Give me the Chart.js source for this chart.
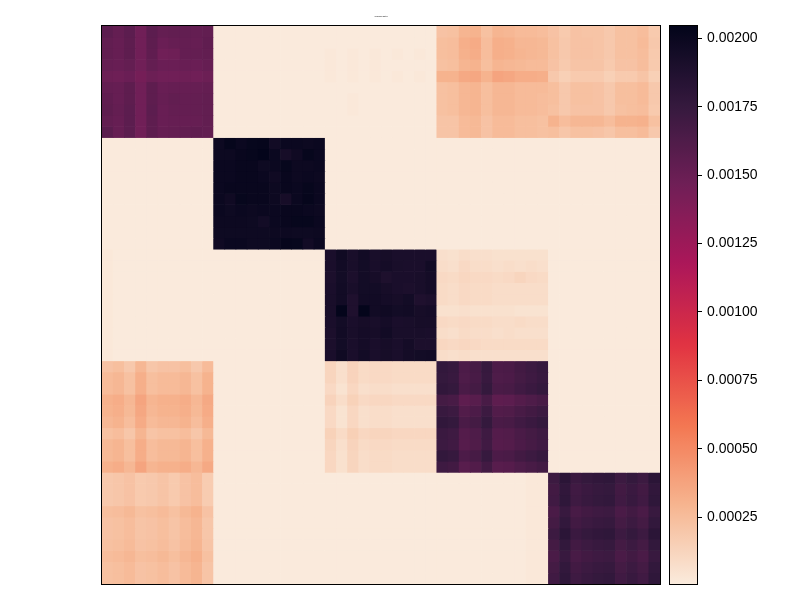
<!DOCTYPE html>
<html>
<head>
<meta charset="utf-8">
<style>
html,body{margin:0;padding:0;background:#fff;}
#wrap{position:relative;width:800px;height:600px;}
canvas{position:absolute;top:0;}
</style>
<script src="https://cdn.jsdelivr.net/npm/chart.js@4.4.1/dist/chart.umd.min.js"></script>
</head>
<body>
<div id="wrap">
<canvas id="heat" width="800" height="600" style="left:0"></canvas>
<canvas id="cbar" width="140" height="600" style="left:660px"></canvas>
</div>
<script>
// ---------- data ----------
const chartTitle = 'Covariance Matrix';
const columnLabels = ['0','1','2','3','4','5','6','7','8','9','10','11','12','13','14','15','16','17','18','19','20','21','22','23','24','25','26','27','28','29','30','31','32','33','34','35','36','37','38','39','40','41','42','43','44','45','46','47','48','49'];
const rowLabels = columnLabels.slice();
const valueUnit = 1e-5;           // cell values below are in units of 1e-5
const colorMin = 0.000005;
const colorMax = 0.002046;
const colorbarTicks = [0.00025, 0.0005, 0.00075, 0.001, 0.00125, 0.0015, 0.00175, 0.002];

const cellValues = [
[156,152,156,146,156,152,153,153,152,153, 1,1,1,1,1,1,1,1,1,1, 1,1,1,1,1,1,1,1,1,1, 22,23,29,30,23,29,28,26,26,25, 22,18,22,21,21,19,23,23,25,18],
[153,151,155,146,155,149,151,152,151,154, 1,1,1,1,1,1,1,1,1,1, 1,1,1,1,1,1,1,1,1,1, 24,25,32,34,25,32,31,28,28,27, 23,19,22,22,21,19,23,23,26,19],
[153,151,155,146,154,146,147,152,152,153, 1,1,1,1,1,1,1,1,1,1, 2,1,2,1,2,1,2,1,2,1, 24,25,31,33,25,32,31,29,28,27, 23,19,22,22,21,19,23,23,25,18],
[151,150,152,146,152,149,149,150,149,151, 1,1,1,1,1,1,1,1,1,1, 2,1,2,1,2,1,1,1,1,1, 23,24,29,30,24,29,28,27,26,26, 22,18,21,21,21,18,22,22,25,18],
[148,147,149,144,148,146,146,147,146,148, 1,1,1,1,1,1,1,1,1,1, 2,1,2,1,2,1,2,1,2,1, 30,30,35,36,30,37,36,33,33,32, 19,15,18,18,18,15,18,18,21,15],
[152,151,155,146,155,150,151,151,151,152, 1,1,1,1,1,1,1,1,1,1, 1,1,1,1,1,1,1,1,1,1, 23,24,28,29,24,28,28,26,26,26, 24,19,23,23,22,19,24,24,26,19],
[154,151,155,146,155,151,153,152,152,153, 1,1,1,1,1,1,1,1,1,1, 1,1,2,1,1,1,1,1,1,1, 23,24,28,29,24,28,28,26,26,25, 24,19,23,23,22,19,24,24,26,19],
[155,152,156,146,156,150,152,152,152,153, 1,1,1,1,1,1,1,1,1,1, 1,1,2,1,1,1,1,1,1,1, 23,24,28,29,24,28,28,26,26,25, 23,19,22,22,22,19,23,24,25,18],
[153,151,156,146,155,150,151,151,151,153, 1,1,1,1,1,1,1,1,1,1, 1,1,1,1,1,1,1,1,1,1, 21,21,26,27,22,26,26,24,24,23, 30,25,28,28,28,25,30,30,31,23],
[157,151,156,146,155,151,152,153,154,153, 1,1,1,1,1,1,1,1,1,1, 1,1,1,1,1,1,1,1,1,1, 21,21,26,27,22,26,26,24,24,23, 24,20,23,23,22,20,24,24,26,19],
[1,1,1,1,1,1,1,1,1,1, 199,203,200,202,203,196,200,200,199,200, 1,1,1,1,1,1,1,1,1,1, 1,1,1,1,1,1,1,1,1,1, 1,1,1,1,1,1,1,1,1,1],
[1,1,1,1,1,1,1,1,1,1, 199,199,201,202,204,200,193,197,202,200, 1,1,1,1,1,1,1,1,1,1, 1,1,1,1,1,1,1,1,1,1, 1,1,1,1,1,1,1,1,1,1],
[1,1,1,1,1,1,1,1,1,1, 200,200,201,201,198,200,202,199,199,200, 1,1,1,1,1,1,1,1,1,1, 1,1,1,1,1,1,1,1,1,1, 1,1,1,1,1,1,1,1,1,1],
[1,1,1,1,1,1,1,1,1,1, 200,200,201,201,200,197,201,199,200,199, 1,1,1,1,1,1,1,1,1,1, 1,1,1,1,1,1,1,1,1,1, 1,1,1,1,1,1,1,1,1,1],
[1,1,1,1,1,1,1,1,1,1, 200,201,201,201,201,199,201,200,202,200, 1,1,1,1,1,1,1,1,1,1, 1,1,1,1,1,1,1,1,1,1, 1,1,1,1,1,1,1,1,1,1],
[1,1,1,1,1,1,1,1,1,1, 200,197,202,201,201,199,193,200,203,200, 1,1,1,1,1,1,1,1,1,1, 1,1,1,1,1,1,1,1,1,1, 1,1,1,1,1,1,1,1,1,1],
[1,1,1,1,1,1,1,1,1,1, 200,198,200,199,200,200,201,201,200,199, 1,1,1,1,1,1,1,1,1,1, 1,1,1,1,1,1,1,1,1,1, 1,1,1,1,1,1,1,1,1,1],
[1,1,1,1,1,1,1,1,1,1, 199,199,199,198,195,200,201,202,202,200, 1,1,1,1,1,1,1,1,1,1, 1,1,1,1,1,1,1,1,1,1, 1,1,1,1,1,1,1,1,1,1],
[1,1,1,1,1,1,1,1,1,1, 198,198,198,198,198,199,199,198,198,199, 1,1,1,1,1,1,1,1,1,1, 1,1,1,1,1,1,1,1,1,1, 1,1,1,1,1,1,1,1,1,1],
[1,1,1,1,1,1,1,1,1,1, 197,200,200,198,198,200,203,202,196,200, 1,1,1,1,1,1,1,1,1,1, 1,1,1,1,1,1,1,1,1,1, 1,1,1,1,1,1,1,1,1,1],
[2,1,1,1,1,1,1,1,1,1, 1,1,1,1,1,1,1,1,1,1, 191,197,192,196,192,193,191,191,191,191, 7,6,8,7,7,6,6,6,6,6, 1,1,1,1,1,1,1,1,1,1],
[2,1,1,1,1,1,1,1,1,1, 1,1,1,1,1,1,1,1,1,1, 191,196,192,195,192,194,192,191,191,196, 8,7,10,8,8,7,8,7,8,7, 1,1,1,1,1,1,1,1,1,1],
[2,1,1,1,1,1,1,1,1,1, 1,1,1,1,1,1,1,1,1,1, 190,195,190,195,193,189,191,191,192,194, 10,9,11,10,10,9,10,12,10,9, 1,1,1,1,1,1,1,1,1,1],
[2,1,1,1,1,1,1,1,1,1, 1,1,1,1,1,1,1,1,1,1, 191,196,192,195,195,193,191,190,192,194, 9,8,10,9,9,8,8,8,8,8, 1,1,1,1,1,1,1,1,1,1],
[2,1,1,1,1,1,1,1,1,1, 1,1,1,1,1,1,1,1,1,1, 192,196,188,196,196,194,193,195,188,190, 9,8,10,9,9,8,8,8,8,8, 1,1,1,1,1,1,1,1,1,1],
[2,1,1,1,1,1,1,1,1,1, 1,1,1,1,1,1,1,1,1,1, 192,204,188,204,196,197,195,196,193,194, 6,6,7,6,6,6,6,5,5,5, 1,1,1,1,1,1,1,1,1,1],
[2,1,1,1,1,1,1,1,1,1, 1,1,1,1,1,1,1,1,1,1, 191,195,191,193,192,194,191,192,193,193, 10,9,10,9,9,8,8,9,8,8, 1,1,1,1,1,1,1,1,1,1],
[2,1,1,1,1,1,1,1,1,1, 1,1,1,1,1,1,1,1,1,1, 190,196,192,194,193,196,192,192,192,191, 8,7,9,8,8,7,8,7,7,7, 1,1,1,1,1,1,1,1,1,1],
[2,1,1,1,1,1,1,1,1,1, 1,1,1,1,1,1,1,1,1,1, 190,195,191,194,191,193,191,194,190,190, 11,10,11,10,9,9,9,9,9,9, 1,1,1,1,1,1,1,1,1,1],
[2,1,1,1,1,1,1,1,1,1, 1,1,1,1,1,1,1,1,1,1, 191,197,191,195,191,193,191,194,195,196, 8,7,8,7,7,7,7,7,7,7, 1,1,1,1,1,1,1,1,1,1],
[22,24,19,28,20,22,22,24,19,26, 1,1,1,1,1,1,1,1,1,1, 12,7,13,9,10,10,9,9,9,9, 177,175,164,167,175,164,165,169,172,175, 1,1,1,1,1,1,1,1,1,1],
[26,28,23,32,24,26,26,28,23,30, 1,1,1,1,1,1,1,1,1,1, 12,7,13,9,10,10,9,9,9,9, 176,174,163,166,174,163,164,168,171,174, 1,1,1,1,1,1,1,1,1,1],
[26,28,23,32,24,26,26,28,23,30, 1,1,1,1,1,1,1,1,1,1, 10,5,11,7,8,8,7,7,7,7, 178,176,165,168,176,165,166,170,173,176, 1,1,1,1,1,1,1,1,1,1],
[31,33,28,37,29,31,31,33,28,35, 1,1,1,1,1,1,1,1,1,1, 13,8,14,10,11,11,10,10,10,10, 168,166,155,158,166,155,156,160,163,166, 1,1,1,1,1,1,1,1,1,1],
[30,32,27,36,28,30,30,32,27,34, 1,1,1,1,1,1,1,1,1,1, 10,5,11,7,8,8,7,7,7,7, 174,172,161,164,172,161,162,166,169,172, 1,1,1,1,1,1,1,1,1,1],
[28,30,25,34,26,28,28,30,25,32, 1,1,1,1,1,1,1,1,1,1, 10,5,11,7,8,8,7,7,7,7, 178,176,165,168,176,165,166,170,173,176, 1,1,1,1,1,1,1,1,1,1],
[23,25,20,29,21,23,23,25,20,27, 1,1,1,1,1,1,1,1,1,1, 14,9,15,11,12,12,11,11,11,11, 173,171,160,163,171,160,161,165,168,171, 1,1,1,1,1,1,1,1,1,1],
[27,29,24,33,25,27,27,29,24,31, 1,1,1,1,1,1,1,1,1,1, 12,7,13,9,10,10,9,9,9,9, 172,170,159,162,170,159,160,164,167,170, 1,1,1,1,1,1,1,1,1,1],
[27,29,24,33,25,27,27,29,24,31, 1,1,1,1,1,1,1,1,1,1, 11,6,12,8,9,9,8,8,8,8, 177,175,164,167,175,164,165,169,172,175, 1,1,1,1,1,1,1,1,1,1],
[31,33,28,37,29,31,31,33,28,35, 1,1,1,1,1,1,1,1,1,1, 11,6,12,8,9,9,8,8,8,8, 171,169,158,161,169,158,159,163,166,169, 1,1,1,1,1,1,1,1,1,1],
[19,20,22,18,19,21,18,22,25,17, 1,1,1,1,1,1,1,1,1,1, 1,1,1,1,1,1,1,1,1,1, 1,1,1,1,1,1,1,1,2,2, 172,181,173,176,178,179,172,176,172,181],
[19,20,22,18,19,21,18,22,25,17, 1,1,1,1,1,1,1,1,1,1, 1,1,1,1,1,1,1,1,1,1, 1,1,1,1,1,1,1,1,2,2, 169,178,170,173,175,176,169,173,169,178],
[19,20,22,18,19,21,18,22,25,17, 1,1,1,1,1,1,1,1,1,1, 1,1,1,1,1,1,1,1,1,1, 1,1,1,1,1,1,1,1,2,2, 170,179,171,174,176,177,170,174,170,179],
[24,25,27,23,24,26,23,27,30,22, 1,1,1,1,1,1,1,1,1,1, 1,1,1,1,1,1,1,1,1,1, 1,1,1,1,1,1,1,1,2,2, 165,174,166,169,171,172,165,169,165,174],
[22,23,25,21,22,24,21,25,28,20, 1,1,1,1,1,1,1,1,1,1, 1,1,1,1,1,1,1,1,1,1, 1,1,1,1,1,1,1,1,2,2, 168,177,169,172,174,175,168,172,168,177],
[22,23,25,21,22,24,21,25,28,20, 1,1,1,1,1,1,1,1,1,1, 1,1,1,1,1,1,1,1,1,1, 1,1,1,1,1,1,1,1,2,2, 172,181,173,176,178,179,172,176,172,181],
[23,24,26,22,23,25,22,26,29,21, 1,1,1,1,1,1,1,1,1,1, 1,1,1,1,1,1,1,1,1,1, 1,1,1,1,1,1,1,1,2,2, 168,177,169,172,174,175,168,172,168,177],
[25,26,28,24,25,27,24,28,31,23, 1,1,1,1,1,1,1,1,1,1, 1,1,1,1,1,1,1,1,1,1, 1,1,1,1,1,1,1,1,2,2, 165,174,166,169,171,172,165,169,165,174],
[23,24,26,22,23,25,22,26,29,21, 1,1,1,1,1,1,1,1,1,1, 1,1,1,1,1,1,1,1,1,1, 1,1,1,1,1,1,1,1,2,2, 168,177,169,172,174,175,168,172,168,177],
[23,24,26,22,23,25,22,26,29,21, 1,1,1,1,1,1,1,1,1,1, 1,1,1,1,1,1,1,1,1,1, 1,1,1,1,1,1,1,1,2,2, 170,179,171,174,176,177,170,174,170,179]
];

// ---------- colormap (seaborn "rocket", used reversed) ----------
const rocketStops = [
  [0.000, [3,5,26]],
  [0.143, [53,25,62]],
  [0.286, [112,31,87]],
  [0.429, [173,23,89]],
  [0.571, [225,51,66]],
  [0.714, [243,118,81]],
  [0.857, [246,180,143]],
  [1.000, [250,235,221]]
];
function rocket(p){
  p = Math.max(0, Math.min(1, p));
  for (let i = 1; i < rocketStops.length; i++){
    const [p1, c1] = rocketStops[i];
    if (p <= p1){
      const [p0, c0] = rocketStops[i-1];
      const f = (p - p0) / (p1 - p0);
      const c = c0.map((v, k) => Math.round(v + (c1[k] - v) * f));
      return 'rgb(' + c.join(',') + ')';
    }
  }
  return 'rgb(250,235,221)';
}
function colorFor(v){
  const t = (v - colorMin) / (colorMax - colorMin);
  return rocket(1 - t);
}

const framePlugin = {
  id: 'frame',
  afterDatasetsDraw(chart){
    const a = chart.chartArea, c = chart.ctx;
    c.save();
    c.strokeStyle = '#000';
    c.lineWidth = 1;
    c.strokeRect(Math.round(a.left) - 0.5, Math.round(a.top) - 0.5, Math.round(a.right - a.left) + 1, Math.round(a.bottom - a.top) + 1);
    c.restore();
  }
};

// ---------- heatmap ----------
const heatDatasets = cellValues.map((row, r) => ({
  label: rowLabels[r],
  data: row.map(() => 1),
  backgroundColor: row.map(v => colorFor(v * valueUnit)),
  borderWidth: 0,
  barPercentage: 1,
  categoryPercentage: 1,
  stack: 'rows'
}));

new Chart(document.getElementById('heat'), {
  type: 'bar',
  data: { labels: columnLabels, datasets: heatDatasets },
  options: {
    responsive: false,
    animation: false,
    devicePixelRatio: 1,
    layout: { padding: { left: 102, right: 140, top: 0, bottom: 16 } },
    plugins: {
      legend: { display: false },
      tooltip: { enabled: false },
      title: {
        display: true,
        text: chartTitle,
        color: '#444',
        font: { family: 'Liberation Sans', size: 1.5 },
        padding: { top: 16, bottom: 8.2 }
      }
    },
    scales: {
      x: { display: false, stacked: true },
      y: { display: false, stacked: true, min: 0, max: 50, reverse: true }
    }
  },
  plugins: [framePlugin]
});

// ---------- colorbar ----------
new Chart(document.getElementById('cbar'), {
  type: 'bar',
  data: {
    labels: [''],
    datasets: [{
      data: [[colorMin, colorMax]],
      borderWidth: 0,
      barPercentage: 1,
      categoryPercentage: 1,
      backgroundColor: (ctx) => {
        const ch = ctx.chart;
        if (!ch.chartArea) return '#fff';
        const ys = ch.scales.y;
        const g = ch.ctx.createLinearGradient(0, ys.getPixelForValue(colorMin), 0, ys.getPixelForValue(colorMax));
        const n = 64;
        for (let i = 0; i <= n; i++) g.addColorStop(i / n, rocket(1 - i / n));
        return g;
      }
    }]
  },
  options: {
    responsive: false,
    animation: false,
    devicePixelRatio: 1,
    layout: { padding: { left: 10, right: 43, top: 26, bottom: 16 } },
    plugins: { legend: { display: false }, tooltip: { enabled: false } },
    scales: {
      x: { display: false },
      y: {
        position: 'right',
        min: colorMin,
        max: colorMax,
        afterFit: (s) => { s.width = 60; },
        afterBuildTicks: (s) => { s.ticks = colorbarTicks.map(v => ({ value: v })); },
        grid: { drawOnChartArea: false, drawTicks: true, tickLength: 5, color: '#000', lineWidth: 1 },
        border: { display: true, color: '#000' },
        ticks: {
          color: '#000',
          padding: 5,
          font: { family: 'Liberation Sans', size: 14 },
          callback: (v) => Number(v).toFixed(5)
        }
      }
    }
  },
  plugins: [framePlugin]
});
</script>
</body>
</html>
